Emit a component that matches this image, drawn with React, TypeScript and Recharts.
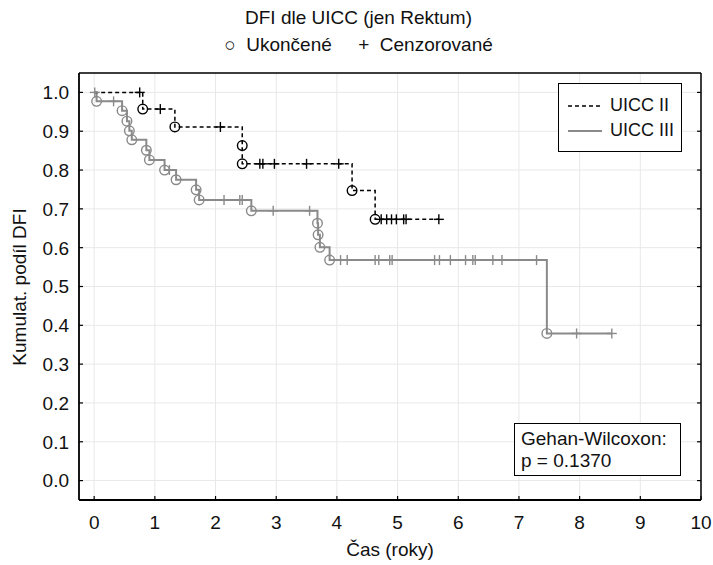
import React from "react";
import { LineChart, Line, XAxis, YAxis, CartesianGrid } from "recharts";

// UICC II (dashed black)
const uicc2Time = [0, 0.75, 0.8, 1.09, 1.33, 2.08, 2.44, 2.44, 2.73, 2.78, 2.97, 3.5, 4.03, 4.25, 4.63, 4.73, 4.82, 4.9, 4.98, 5.1, 5.14, 5.68];
const uicc2Surv = [1, 1, 0.957, 0.957, 0.911, 0.911, 0.863, 0.816, 0.816, 0.816, 0.816, 0.816, 0.816, 0.747, 0.673, 0.673, 0.673, 0.673, 0.673, 0.673, 0.673, 0.673];
const uicc2Mark = ["", "+", "o", "+", "o", "+", "o", "o", "+", "+", "+", "+", "+", "o", "o", "+", "+", "+", "+", "+", "+", "+"];

// UICC III (solid gray)
const uicc3Time = [0, 0.01, 0.04, 0.32, 0.46, 0.54, 0.58, 0.62, 0.86, 0.91, 1.16, 1.24, 1.35, 1.68, 1.73, 2.14, 2.4, 2.44, 2.59, 2.95, 3.55, 3.68, 3.69, 3.72, 3.88, 4.06, 4.17, 4.63, 4.69, 4.87, 4.91, 5.61, 5.69, 5.87, 6.12, 6.24, 6.28, 6.57, 6.72, 7.29, 7.46, 7.95, 8.53];
const uicc3Surv = [1, 1, 0.977, 0.977, 0.953, 0.926, 0.901, 0.878, 0.851, 0.826, 0.8, 0.8, 0.775, 0.749, 0.723, 0.723, 0.723, 0.723, 0.695, 0.695, 0.695, 0.663, 0.633, 0.601, 0.568, 0.568, 0.568, 0.568, 0.568, 0.568, 0.568, 0.568, 0.568, 0.568, 0.568, 0.568, 0.568, 0.568, 0.568, 0.568, 0.379, 0.379, 0.379];
const uicc3Mark = ["", "+", "o", "+", "o", "o", "o", "o", "o", "o", "o", "+", "o", "o", "o", "+", "+", "+", "o", "+", "+", "o", "o", "o", "o", "+", "+", "+", "+", "+", "+", "+", "+", "+", "+", "+", "+", "+", "+", "+", "o", "+", "+"];

const xTicks = [0, 1, 2, 3, 4, 5, 6, 7, 8, 9, 10];
const yTicks = [0, 0.1, 0.2, 0.3, 0.4, 0.5, 0.6, 0.7, 0.8, 0.9, 1.0];

const toRows = (t: number[], s: number[], m: string[]) =>
  t.map((v, i) => ({ t: v, s: s[i], mark: m[i] }));

const uicc2Data = toRows(uicc2Time, uicc2Surv, uicc2Mark);
const uicc3Data = toRows(uicc3Time, uicc3Surv, uicc3Mark);

const FONT = '"Liberation Sans", Arial, sans-serif';
const GRAY = "#8a8a8a";

const makeDot = (color: string) => (props: any) => {
  const { cx, cy, payload, index } = props;
  if (cx == null || cy == null) return <g key={index} />;
  if (payload.mark === "o") {
    return <circle key={index} cx={cx} cy={cy} r={4.8} fill="none" stroke={color} strokeWidth={1.4} />;
  }
  if (payload.mark === "+") {
    return (
      <g key={index} stroke={color} strokeWidth={1.4}>
        <line x1={cx - 5} x2={cx + 5} y1={cy} y2={cy} />
        <line x1={cx} x2={cx} y1={cy - 5} y2={cy + 5} />
      </g>
    );
  }
  return <g key={index} />;
};

const LeftTick = (props: any) => {
  const { x, y, payload } = props;
  return (
    <g>
      <line x1={x} x2={x + 4} y1={y} y2={y} stroke="#000" strokeWidth={1.2} />
      <text x={x - 10} y={y} dy="0.36em" textAnchor="end" fontSize={19} fontFamily={FONT} fill="#111">
        {Number(payload.value).toFixed(1)}
      </text>
    </g>
  );
};

const BottomTick = (props: any) => {
  const { x, y, payload } = props;
  return (
    <g>
      <line x1={x} x2={x} y1={y} y2={y - 4} stroke="#000" strokeWidth={1.2} />
      <text x={x} y={y + 22} dy="0.36em" textAnchor="middle" fontSize={19} fontFamily={FONT} fill="#111">
        {payload.value}
      </text>
    </g>
  );
};

const TopTick = (props: any) => {
  const { x, y } = props;
  return <line x1={x} x2={x} y1={y} y2={y + 4} stroke="#000" strokeWidth={1.2} />;
};

const RightTick = (props: any) => {
  const { x, y } = props;
  return <line x1={x} x2={x - 4} y1={y} y2={y} stroke="#000" strokeWidth={1.2} />;
};

export default function App() {
  return (
    <div style={{ position: "absolute", left: 0, top: 0, width: 713, height: 565, background: "#fff", fontFamily: FONT, color: "#111" }}>
      <LineChart width={713} height={565} margin={{ top: 0, right: 0, bottom: 0, left: 0 }}>
        <CartesianGrid stroke="#e8e8e8" strokeWidth={1} />
        <XAxis
          dataKey="t"
          type="number"
          domain={[-0.25, 10]}
          ticks={xTicks}
          allowDataOverflow
          height={65}
          tickSize={0}
          tickMargin={0}
          tickLine={false}
          tick={<BottomTick />}
          axisLine={{ stroke: "#000", strokeWidth: 1.8 }}
        />
        <XAxis
          xAxisId="top"
          orientation="top"
          type="number"
          domain={[-0.25, 10]}
          ticks={xTicks}
          allowDataOverflow
          height={73}
          tickSize={0}
          tickMargin={0}
          tickLine={false}
          tick={<TopTick />}
          axisLine={{ stroke: "#000", strokeWidth: 1.5 }}
        />
        <YAxis
          type="number"
          domain={[-0.05, 1.05]}
          ticks={yTicks}
          allowDataOverflow
          width={79}
          tickSize={0}
          tickMargin={0}
          tickLine={false}
          tick={<LeftTick />}
          axisLine={{ stroke: "#000", strokeWidth: 1.8 }}
        />
        <YAxis
          yAxisId="right"
          orientation="right"
          type="number"
          domain={[-0.05, 1.05]}
          ticks={yTicks}
          allowDataOverflow
          width={12}
          tickSize={0}
          tickMargin={0}
          tickLine={false}
          tick={<RightTick />}
          axisLine={{ stroke: "#000", strokeWidth: 1.5 }}
        />
        <Line
          data={uicc3Data}
          dataKey="s"
          type="stepAfter"
          stroke={GRAY}
          strokeWidth={2}
          dot={makeDot(GRAY)}
          activeDot={false}
          isAnimationActive={false}
        />
        <Line
          data={uicc2Data}
          dataKey="s"
          type="stepAfter"
          stroke="#000"
          strokeWidth={1.5}
          strokeDasharray="4 3"
          dot={makeDot("#000")}
          activeDot={false}
          isAnimationActive={false}
        />
      </LineChart>

      <div style={{ position: "absolute", left: 2, top: 7, width: 713, textAlign: "center", fontSize: 19 }}>
        DFI dle UICC (jen Rektum)
      </div>
      <div style={{ position: "absolute", left: 2, top: 34, width: 713, textAlign: "center", fontSize: 19, whiteSpace: "pre" }}>
        {"○  Ukončené     +  Cenzorované"}
      </div>

      <div
        style={{
          position: "absolute",
          left: 20,
          top: 287,
          transform: "translate(-50%, -50%) rotate(-90deg)",
          whiteSpace: "nowrap",
          fontSize: 19,
        }}
      >
        Kumulat. podíl DFI
      </div>
      <div style={{ position: "absolute", left: 0, top: 539, width: 780, textAlign: "center", fontSize: 19 }}>
        Čas (roky)
      </div>

      <div
        style={{
          position: "absolute",
          left: 558,
          top: 83,
          width: 122,
          height: 67,
          border: "1px solid #000",
          background: "#fff",
          fontSize: 18,
        }}
      >
        <div style={{ display: "flex", alignItems: "center", height: 25, marginTop: 9 }}>
          <svg width={44} height={10} style={{ marginLeft: 7 }}>
            <line x1={2} x2={36} y1={5} y2={5} stroke="#000" strokeWidth={1.5} strokeDasharray="4 3" />
          </svg>
          <span>UICC II</span>
        </div>
        <div style={{ display: "flex", alignItems: "center", height: 25 }}>
          <svg width={44} height={10} style={{ marginLeft: 7 }}>
            <line x1={2} x2={36} y1={5} y2={5} stroke={GRAY} strokeWidth={2} />
          </svg>
          <span>UICC III</span>
        </div>
      </div>

      <div
        style={{
          position: "absolute",
          left: 514,
          top: 423,
          width: 167,
          height: 53,
          border: "1px solid #000",
          background: "#fff",
          fontSize: 19,
          lineHeight: "22px",
          paddingLeft: 6,
          paddingTop: 4,
          boxSizing: "border-box" as const,
        }}
      >
        <div>Gehan-Wilcoxon:</div>
        <div>p = 0.1370</div>
      </div>
    </div>
  );
}
